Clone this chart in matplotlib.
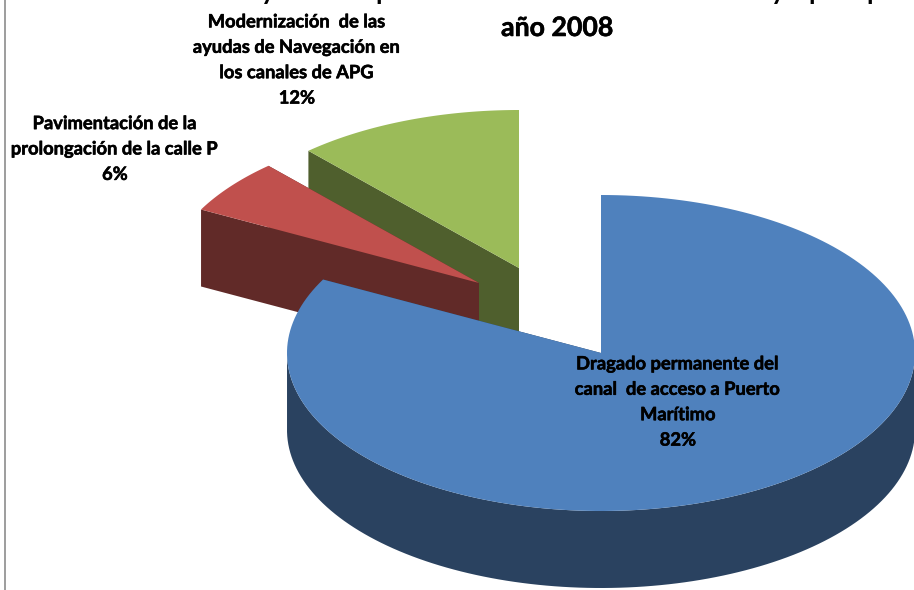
import matplotlib
matplotlib.use('Agg')
import matplotlib.pyplot as plt
import matplotlib.patheffects as pe
from matplotlib.patches import Polygon
import numpy as np

categories = ['Dragado permanente del\ncanal  de acceso a Puerto\nMarítimo',
              'Pavimentación de la\nprolongación de la calle P',
              'Modernización  de las\nayudas de Navegación en\nlos canales de APG']
values = [82.7, 5.6, 11.7]
value_labels = ['82%', '6%', '12%']
top_colors = ['#4F81BD', '#C0504D', '#9BBB59']
side_colors = ['#2A4260', '#612A28', '#4F5F2D']

# where each exploded slice sits, in pixels
centers = [(601, 353), (479, 283), (519, 268)]
label_pos = [(678, 402), (115, 149), (297, 60)]
rx, ry, depth = 314, 158, 77
# only the bottoms of these letters show, the title is cut by the page
title_cut = [('y', 268), ('p', 383), ('y', 778), ('p', 816), ('p', 874)]


def xy(center, ang):
    # ang in degrees, clockwise from 12 o'clock
    t = np.radians(ang)
    return center[0] + rx * np.sin(t), center[1] - ry * np.cos(t)


fig = plt.figure(figsize=(9.14, 5.9), dpi=100)
ax = fig.add_axes([0, 0, 1, 1])
ax.set_xlim(0, 914)
ax.set_ylim(590, 0)
ax.axis('off')
plt.rcParams['font.family'] = ['Lato', 'DejaVu Sans']

edges = np.cumsum([0] + values) * 3.6
# Lato bold is a bit thinner than the reference lettering
thick = [pe.withStroke(linewidth=0.4, foreground='black')]

# back slices first, the blue one goes over them
for i in [2, 1, 0]:
    c = centers[i]
    a0, a1 = edges[i], edges[i + 1]
    t = np.linspace(a0, a1, 200)
    px, py = xy(c, t)

    # cut face at the end of the slice
    ex, ey = xy(c, a1)
    ax.add_patch(Polygon([(c[0], c[1]), (ex, ey), (ex, ey + depth), (c[0], c[1] + depth)],
                         color=side_colors[i], lw=0))
    # cut face at the start, edge on for green
    sx, sy = xy(c, a0)
    ax.add_patch(Polygon([(c[0], c[1]), (sx, sy), (sx, sy + depth), (c[0], c[1] + depth)],
                         color=side_colors[i], lw=0))
    # outer wall, only the front half can be seen
    mask = (t >= 90) & (t <= 270)
    if mask.any():
        wx, wy = px[mask], py[mask]
        wall = np.r_[np.c_[wx, wy], np.c_[wx[::-1], wy[::-1] + depth]]
        ax.add_patch(Polygon(wall, color=side_colors[i], lw=0))
    # top face
    top = np.r_[[c], np.c_[px, py]]
    ax.add_patch(Polygon(top, color=top_colors[i], lw=0))

for name, val, pos in zip(categories, value_labels, label_pos):
    ax.text(pos[0], pos[1], name + '\n' + val, ha='center', va='center', fontsize=13.2,
            fontweight='bold', color='black', linespacing=1.6, path_effects=thick)

ax.text(557, 28, 'año 2008', ha='center', va='center', fontsize=19.2, fontweight='bold',
        color='black', path_effects=thick)
for ch, x in title_cut:
    ax.text(x, 0, ch, ha='center', va='baseline', fontsize=19.2, fontweight='bold', color='black')

ax.plot([4.5, 4.5], [0, 590], color='#8C8C8C', lw=1.2)

fig.savefig('out.png', dpi=100)
